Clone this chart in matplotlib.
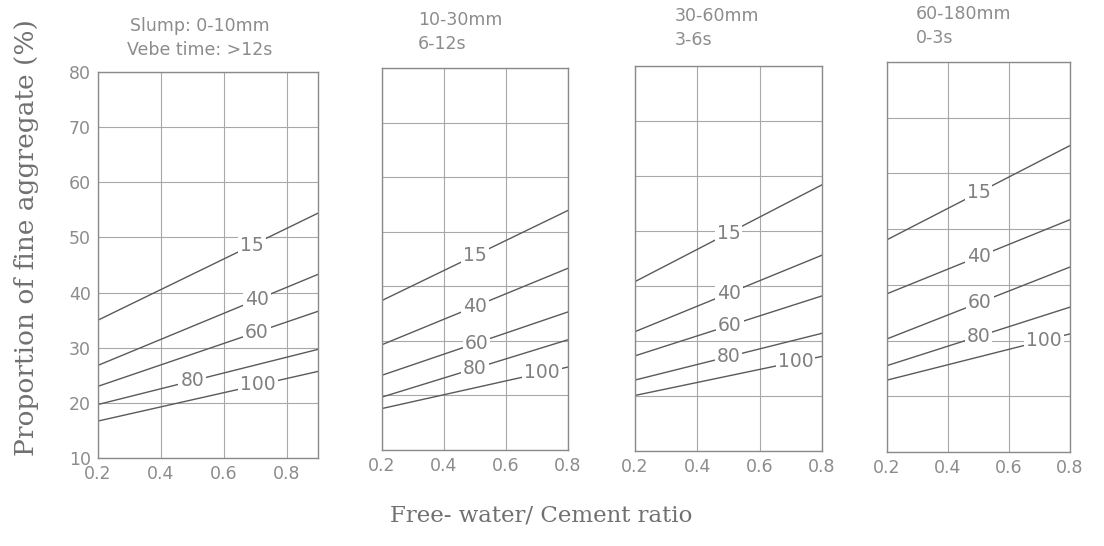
import matplotlib.pyplot as plt

# free water / cement ratio range of each panel
wc_first = [0.2, 0.9]
wc_other = [0.2, 0.8]

# curve labels (% passing 600 um sieve)
passing = ["15", "40", "60", "80", "100"]

# proportion of fine aggregate (%) at start and end of each curve
p1_start = [35.0, 26.8, 23.0, 19.7, 16.7]
p1_end = [54.4, 43.3, 36.6, 29.7, 25.7]
p2_start = [37.4, 29.3, 23.7, 19.7, 17.6]
p2_end = [53.9, 43.3, 35.3, 30.2, 25.2]
p3_start = [40.8, 31.7, 27.3, 22.9, 20.1]
p3_end = [58.4, 45.6, 38.2, 31.4, 27.2]
p4_start = [48.1, 38.4, 30.3, 25.5, 22.9]
p4_end = [65.0, 51.7, 43.2, 36.0, 31.2]

# where the curve labels sit along the x axis
p1_lab_x = [0.69, 0.705, 0.705, 0.50, 0.71]
p_lab_x = [0.50, 0.50, 0.505, 0.50, 0.715]

titles = ["Slump: 0-10mm\nVebe time: >12s", "10-30mm\n6-12s", "30-60mm\n3-6s", "60-180mm\n0-3s"]
xticks = [0.2, 0.4, 0.6, 0.8]
yticks = [10, 20, 30, 40, 50, 60, 70, 80]

W, H = 1104, 546
fig = plt.figure(figsize=(W / 100, H / 100), dpi=100)

# pixel boxes of the panels (left, right, top, bottom)
boxes = [(98, 318, 72, 458), (382, 568, 68, 450), (635, 822, 66, 451), (887, 1070, 62, 452)]
starts = [p1_start, p2_start, p3_start, p4_start]
ends = [p1_end, p2_end, p3_end, p4_end]
xranges = [wc_first, wc_other, wc_other, wc_other]
lab_xs = [p1_lab_x, p_lab_x, p_lab_x, p_lab_x]
title_pos = [(200, 38), (418, 32), (675, 28), (916, 26)]

grey = "#8c8c8c"
line_col = "#5a5a5a"

for i in range(4):
    l, r, t, b = boxes[i]
    ax = fig.add_axes([l / W, 1 - b / H, (r - l) / W, (b - t) / H])
    x0, x1 = xranges[i]
    ax.set_xlim(x0, x1)
    ax.set_ylim(10, 80)
    ax.set_xticks(xticks)
    ax.set_yticks(yticks)
    ax.grid(True, color="#a8a8a8", linewidth=0.8)
    for s in ax.spines.values():
        s.set_color("#8a8a8a")
        s.set_linewidth(1.0)
    ax.tick_params(length=0, colors=grey, labelsize=12.5, pad=5)
    ax.set_xticklabels(["0.2", "0.4", "0.6", "0.8"])
    if i > 0:
        ax.set_yticklabels([])
    for k in range(5):
        ys, ye = starts[i][k], ends[i][k]
        ax.plot([x0, x1], [ys, ye], color=line_col, linewidth=1.0)
        lx = lab_xs[i][k]
        ly = ys + (ye - ys) * (lx - x0) / (x1 - x0)
        ax.text(lx, ly, passing[k], ha="center", va="center", fontsize=13.5,
                color="#808080", bbox=dict(facecolor="white", edgecolor="none", pad=1.5))
    tx, ty = title_pos[i]
    ha = "center" if i == 0 else "left"
    fig.text(tx / W, 1 - ty / H, titles[i], ha=ha, va="center", fontsize=12.5,
             color=grey, linespacing=1.45)

fig.text(27 / W, 1 - 238 / H, "Proportion of fine aggregate (%)", rotation=90,
         ha="center", va="center", fontsize=19, family="DejaVu Serif", color="#707070")
fig.text(541 / W, 1 - 516 / H, "Free- water/ Cement ratio", ha="center", va="center",
         fontsize=16.5, family="DejaVu Serif", color="#707070")

fig.savefig("out.png", dpi=100, facecolor="white")
